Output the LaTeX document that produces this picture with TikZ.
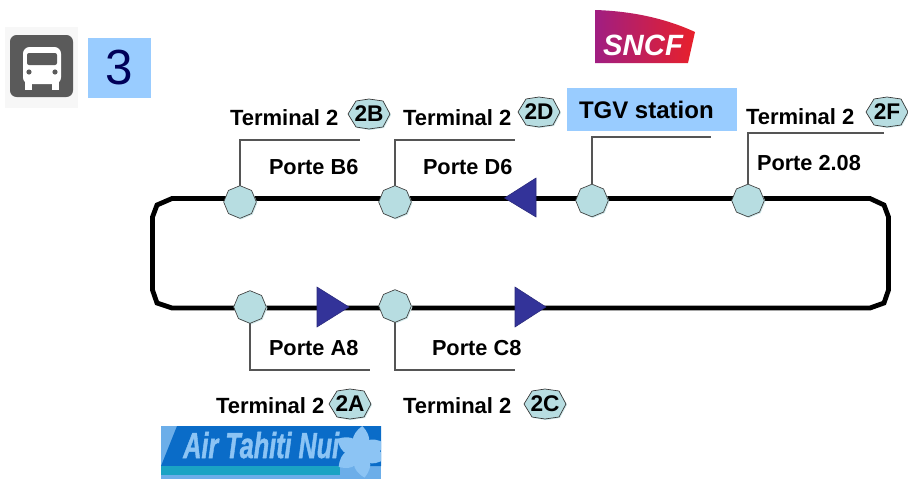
\documentclass[tikz,border=0pt]{standalone}
\usepackage{fontspec}
\setmainfont{Liberation Sans}
\usetikzlibrary{shapes.geometric,shadows,backgrounds}
\definecolor{stopfill}{HTML}{B7DDE1}
\definecolor{stopshade}{HTML}{CFE8EA}
\definecolor{arrowblue}{HTML}{333399}
\definecolor{skyblue}{HTML}{99CCFF}
\definecolor{busgrey}{HTML}{5A5A5A}
\definecolor{leadgrey}{HTML}{555555}
\definecolor{atnblue}{HTML}{0A6CC8}
\definecolor{atnlight}{HTML}{8CC4F4}
\definecolor{atnteal}{HTML}{1AA3C4}
\definecolor{sncfpurple}{HTML}{A01E82}
\definecolor{sncfred}{HTML}{E8202A}
\tikzset{
  x=.75pt,y=-.75pt,
  stop/.style={regular polygon,regular polygon sides=8,shape border rotate=22.5,minimum size=24.5pt,inner sep=0,outer sep=0,
    draw=black!75,line width=.5pt,fill=stopfill,drop shadow={shadow xshift=.8pt,shadow yshift=-.8pt,fill=stopshade,opacity=1}},
  lab/.style={anchor=base west,inner sep=0,outer sep=0,font=\fontsize{16.5}{18}\selectfont\bfseries},
  gate/.style={anchor=base west,inner sep=0,outer sep=0,font=\fontsize{16.3}{18}\selectfont\bfseries},
  badgelab/.style={inner sep=0,outer sep=0,font=\fontsize{17}{18}\selectfont\bfseries},
  badgeshape/.style={draw=black!80,line width=.5pt,fill=stopfill},
  track/.style={line width=3.6pt,black,line join=miter},
  lead/.style={leadgrey,line width=.9pt},
  dirarrow/.style={fill=arrowblue,draw=arrowblue!80!black,line width=.4pt},
}
\newcommand{\stationbadge}[4]{%
  \begin{scope}[shift={(#1,#2)}]
    \fill[stopshade] (-20,2)--(-12,-12)--(1,-14)--(15,-12)--(22,1)--(15,14)--(1,16)--(-12,14)--cycle;
    \draw[badgeshape] (-21,0)--(-13,-13)--(0,-15)--(14,-13)--(21,0)--(14,13)--(0,15)--(-13,13)--cycle;
    \node[badgelab] (#4) at (0,0) {#3};
  \end{scope}}
\begin{document}
\begin{tikzpicture}
\useasboundingbox (0,0) rectangle (908,479);
% bus icon
\fill[black!3] (5,27) rectangle (78,108);
\fill[busgrey,rounded corners=5pt] (10,35) rectangle (73,97);
\fill[white,rounded corners=5pt] (23,47) rectangle (61,84);
\fill[white] (25,80) rectangle (32,90);
\fill[white] (52,80) rectangle (59,90);
\fill[busgrey,rounded corners=1.5pt] (27,53) rectangle (57,65);
\fill[busgrey] (29,72) circle[radius=2.6];
\fill[busgrey] (55,72) circle[radius=2.6];
% line 3
\node[fill=skyblue,minimum width=47.25pt,minimum height=45pt,inner sep=0,outer sep=0,text=blue!35!black,font=\fontsize{37}{40}\selectfont] (linenum) at (119.5,68) {3};
% SNCF
\shade[left color=sncfpurple,right color=sncfred] (595,10) .. controls (630,11) and (665,18) .. (695,32) -- (688,63) -- (595,63) -- cycle;
\node[anchor=base,inner sep=0,text=white,font=\fontsize{22}{24}\selectfont\bfseries\itshape] (sncf) at (643,55) {SNCF};
% TGV box
\fill[skyblue] (567,88) rectangle (737,131);
% Air Tahiti Nui
\fill[atnlight!75!atnblue] (161,426) rectangle (381,479);
\fill[atnblue] (177,426) -- (381,426) -- (381,466) -- (161,466) -- cycle;
\fill[atnteal] (161,466) rectangle (340,475);
\node[anchor=base west,inner sep=0,text=atnlight,font=\fontsize{27}{30}\selectfont\bfseries\itshape\addfontfeature{FakeBold=1.5}] (atn) at (183,458) {\scalebox{.7}[1]{Air Tahiti Nui}};
\begin{scope}
\clip (161,426) rectangle (381,479);
\foreach \a in {20,85,150,215,280,345}
  \fill[atnlight,rotate around={\a:(360,452)}] (360,452) .. controls (364,442) and (376,440) .. (386,452) .. controls (376,464) and (364,462) .. (360,452);
\end{scope}
% stops
\node[stop] (sB) at (240,202) {};
\node[stop] (sD) at (395,202) {};
\node[stop] (sT) at (592,200.5) {};
\node[stop] (sF) at (748,200.5) {};
\node[stop] (sA) at (250,307) {};
\node[stop] (sC) at (395,306) {};
% track
\coordinate (tl) at (172,198.5);
\coordinate (tr) at (870,198.5);
\coordinate (bl) at (172,308);
\coordinate (br) at (870,308);
\begin{pgfonlayer}{background}
\draw[track] (tr) -- (tl) -- (157,205) -- (152.5,217) -- (152.5,290) -- (157,303) -- (bl) -- (br) -- (884,303) -- (888.5,290) -- (888.5,217) -- (884,205) -- cycle;
\end{pgfonlayer}
% direction arrows
\draw[dirarrow] (504.5,198) -- (536,178) -- (536,217) -- cycle;
\draw[dirarrow] (317,287) -- (349,307) -- (317,327) -- cycle;
\draw[dirarrow] (515,287) -- (546,307) -- (515,327) -- cycle;
% leaders
\coordinate (eB) at (360,140);
\coordinate (eD) at (515,140);
\coordinate (eT) at (711,137);
\coordinate (eF) at (884,133);
\coordinate (eA) at (370,370);
\coordinate (eC) at (515,370);
\draw[lead] (sB.north) |- (eB);
\draw[lead] (sD.north) |- (eD);
\draw[lead] (sT.north) |- (eT);
\draw[lead] (sF.north) |- (eF);
\draw[lead] (sA.south) |- (eA);
\draw[lead] (sC.south) |- (eC);
% labels
\node[lab] (tB) at (230,125) {Terminal 2};
\node[lab] (tD) at (403,125) {Terminal 2};
\node[lab] (tF) at (746,124) {Terminal 2};
\node[lab] (tA) at (216,413) {Terminal 2};
\node[lab] (tC) at (403,413) {Terminal 2};
\node[gate] (pB) at (269,174) {Porte B6};
\node[gate] (pD) at (423,174) {Porte D6};
\node[gate] (pF) at (757,170) {Porte 2.08};
\node[gate] (pA) at (269,355) {Porte A8};
\node[gate] (pC) at (432,355) {Porte C8};
\node[lab,font=\fontsize{18}{20}\selectfont\bfseries] (tgv) at (579,118) {TGV station};
% badges
\stationbadge{369}{114}{2B}{bB}
\stationbadge{539}{112}{2D}{bD}
\stationbadge{887}{112}{2F}{bF}
\stationbadge{350}{404}{2A}{bA}
\stationbadge{545}{404}{2C}{bC}
\end{tikzpicture}
\end{document}
